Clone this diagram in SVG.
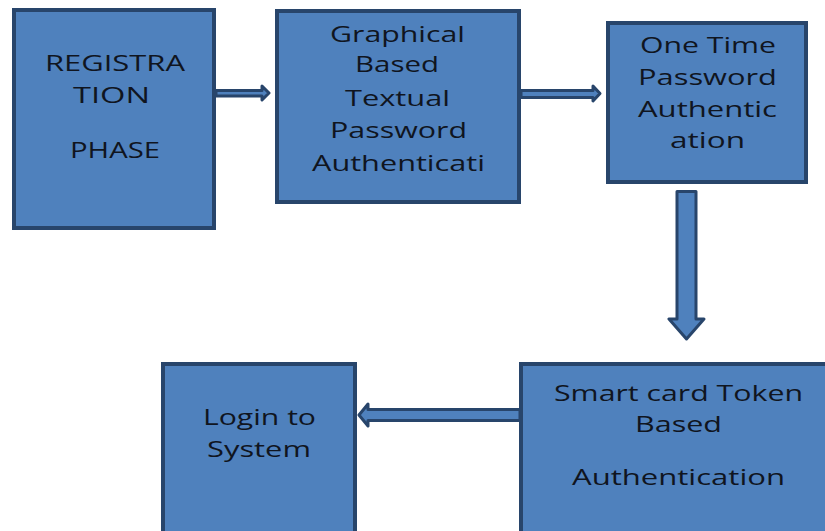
<svg xmlns="http://www.w3.org/2000/svg" width="825" height="531" viewBox="0 0 825 531">
<style>
.box{fill:#4f81bd;stroke:#28456b;stroke-width:4}
.arr{fill:#4f81bd;stroke:#28456b;stroke-width:3;stroke-linejoin:round}
text{font-family:"Open Sans","Liberation Sans",sans-serif;font-size:22px;fill:#10151f}
</style>
<rect width="825" height="531" fill="#ffffff"/>
<g id="connectors">
<polygon class="arr" points="216,90.5 262,90.5 262,86 269,93 262,100 262,96 216,96"/>
<polygon class="arr" points="521,90.5 593,90.5 593,86 600,93.5 593,101 593,97.5 521,97.5"/>
<polygon class="arr" points="677,191.5 696,191.5 696,319 704,319 686.5,339 669,319 677,319"/>
<polygon class="arr" points="520,409.5 368,409.5 368,404 359,415 368,426 368,420.5 520,420.5"/>
</g>
<g id="registration">
<rect class="box" x="14" y="10" width="200" height="218"/>
<text x="45" y="71" textLength="140" lengthAdjust="spacingAndGlyphs">REGISTRA</text>
<text x="73" y="103" textLength="77" lengthAdjust="spacingAndGlyphs">TION</text>
<text x="70" y="158" textLength="90" lengthAdjust="spacingAndGlyphs">PHASE</text>
</g>
<g id="graphical">
<rect class="box" x="277" y="11" width="242" height="191"/>
<text x="330" y="42" textLength="135" lengthAdjust="spacingAndGlyphs">Graphical</text>
<text x="355" y="72" textLength="84" lengthAdjust="spacingAndGlyphs">Based</text>
<text x="345" y="106" textLength="105" lengthAdjust="spacingAndGlyphs">Textual</text>
<text x="330" y="138" textLength="137" lengthAdjust="spacingAndGlyphs">Password</text>
<text x="312" y="171" textLength="173" lengthAdjust="spacingAndGlyphs">Authenticati</text>
</g>
<g id="otp">
<rect class="box" x="608" y="23" width="198" height="159"/>
<text x="640" y="53" textLength="136" lengthAdjust="spacingAndGlyphs">One Time</text>
<text x="638" y="85" textLength="139" lengthAdjust="spacingAndGlyphs">Password</text>
<text x="638" y="117" textLength="139" lengthAdjust="spacingAndGlyphs">Authentic</text>
<text x="670" y="148" textLength="75" lengthAdjust="spacingAndGlyphs">ation</text>
</g>
<g id="smartcard">
<rect class="box" x="521" y="364" width="310" height="200"/>
<text x="554" y="401" textLength="249" lengthAdjust="spacingAndGlyphs">Smart card Token</text>
<text x="635" y="432" textLength="87" lengthAdjust="spacingAndGlyphs">Based</text>
<text x="572" y="485" textLength="213" lengthAdjust="spacingAndGlyphs">Authentication</text>
</g>
<g id="login">
<rect class="box" x="163" y="364" width="192" height="200"/>
<text x="203" y="425" textLength="113" lengthAdjust="spacingAndGlyphs">Login to</text>
<text x="207" y="457" textLength="104" lengthAdjust="spacingAndGlyphs">System</text>
</g>
</svg>
